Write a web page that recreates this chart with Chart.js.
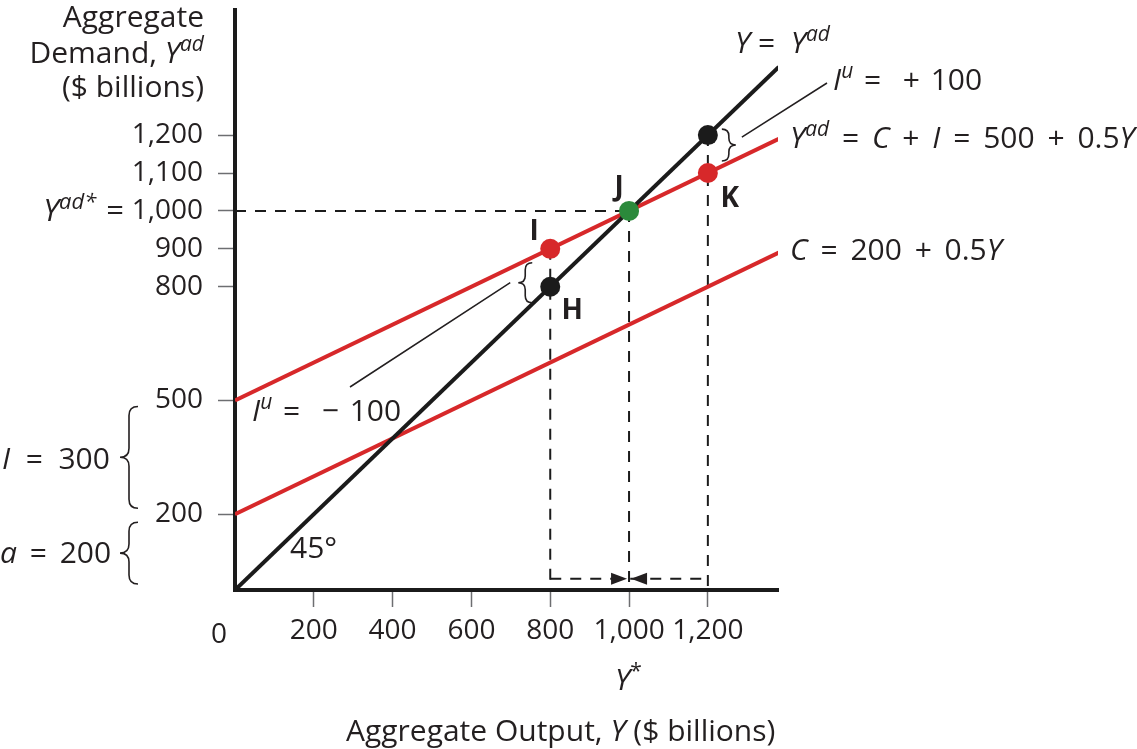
<!DOCTYPE html>
<html>
<head>
<meta charset="utf-8">
<script src="https://cdn.jsdelivr.net/npm/chart.js@4.4.0/dist/chart.umd.min.js"></script>
<style>
  html, body { margin: 0; padding: 0; background: #fff; }
  canvas { display: block; }
</style>
</head>
<body>
<canvas id="myChart" width="1137" height="749"></canvas>
<script>
// tick labels
const xTicks = [200, 400, 600, 800, 1000, 1200];
const yTicks = [200, 500, 800, 900, 1000, 1100, 1200];

// the three straight lines, given at their two ends
const lineEnds = [0, 1380];
const yEqualsYad = [0, 1380];      // 45 degree line
const aggDemand = [500, 1190];     // Yad = C + I = 500 + 0.5Y
const consumption = [200, 890];    // C = 200 + 0.5Y

// points H, I, J, K and the point on the 45 line above K
const pointNames = ['H', 'I', 'J', 'K', ''];
const pointX = [800, 800, 1000, 1200, 1200];
const pointY = [800, 900, 1000, 1100, 1200];

// dashed guides
const guideX = [800, 1000, 1200];
const guideTop = [900, 1000, 1200];
const equilibrium = 1000;
const arrowLevel = 30;

const ink = '#231f20';
const red = '#d7282a';
const green = '#2b8a3b';
const black = '#1b1b1b';
const pointColors = [black, red, green, red, black];
const FONT = "'Open Sans', 'Noto Sans', sans-serif";

Chart.defaults.font.family = FONT;

const xy = (xs, ys) => xs.map((x, i) => ({ x: x, y: ys[i] }));

function dashed(points) {
    return {
        data: points, showLine: true, borderColor: black, borderWidth: 2,
        borderDash: [11, 9], pointRadius: 0, order: 3
    };
}

// text made of pieces: [text, style], style may hold i (italic), b (bold), s (superscript)
// extra = additional px added to every space
function rich(ctx, x, y, parts, size, align, extra) {
    extra = extra || 0;
    const fontFor = st => (st.includes('i') ? 'italic ' : '') + (st.includes('b') ? 'bold ' : '') +
        Math.round(st.includes('s') ? size * 0.7 : size) + 'px ' + FONT;
    const widthOf = p => {
        ctx.font = fontFor(p[1]);
        const spaces = p[0].split(' ').length - 1;
        return ctx.measureText(p[0]).width + spaces * extra;
    };
    let w = 0;
    parts.forEach(p => { w += widthOf(p); });
    let cx = align === 'right' ? x - w : align === 'center' ? x - w / 2 : x;
    parts.forEach(p => {
        ctx.font = fontFor(p[1]);
        const dy = p[1].includes('s') ? -size * 0.4 : 0;
        const words = p[0].split(' ');
        const sp = ctx.measureText(' ').width + extra;
        words.forEach((word, k) => {
            if (k > 0) cx += sp;
            ctx.fillText(word, cx, y + dy);
            cx += ctx.measureText(word).width;
        });
    });
}

// vertical curly brace, tip points to dir (-1 left, 1 right)
function brace(ctx, x, y1, y2, dir, w) {
    const h = w / 2, ym = (y1 + y2) / 2;
    const e = x - dir * h, t = x + dir * h;
    ctx.beginPath();
    ctx.moveTo(e, y1);
    ctx.quadraticCurveTo(x, y1, x, y1 + h);
    ctx.lineTo(x, ym - h);
    ctx.quadraticCurveTo(x, ym, t, ym);
    ctx.quadraticCurveTo(x, ym, x, ym + h);
    ctx.lineTo(x, y2 - h);
    ctx.quadraticCurveTo(x, y2, e, y2);
    ctx.stroke();
}

function arrowHead(ctx, x, y, dir) {
    ctx.beginPath();
    ctx.moveTo(x, y);
    ctx.lineTo(x - dir * 16, y - 6);
    ctx.lineTo(x - dir * 16, y + 6);
    ctx.closePath();
    ctx.fill();
}

const annotations = {
    id: 'annotations',
    afterDraw(chart) {
        const ctx = chart.ctx;
        const X = v => chart.scales.x.getPixelForValue(v);
        const Y = v => chart.scales.y.getPixelForValue(v);
        ctx.save();
        ctx.fillStyle = ink;
        ctx.strokeStyle = ink;
        ctx.textBaseline = 'alphabetic';

        // axis titles
        rich(ctx, 204, 27, [['Aggregate', '']], 30, 'right');
        rich(ctx, 204, 63, [['Demand, ', ''], ['Y', 'i'], ['ad', 'is']], 30, 'right');
        rich(ctx, 204, 97, [['($ billions)', '']], 30, 'right');
        rich(ctx, 346, 741, [['Aggregate Output, ', ''], ['Y', 'i'], [' ($ billions)', '']], 30, 'left');
        rich(ctx, 615, 690, [['Y', 'i'], ['*', 's']], 30, 'left');

        // "0" at the origin and the Yad* label before 1,000
        rich(ctx, X(0) - 16, 643, [['0', '']], 28, 'center');
        rich(ctx, 124, Y(equilibrium) + 10, [['Y', 'i'], ['ad*', 'is'], [' =', '']], 31, 'right', 2);

        // line labels
        rich(ctx, 735, 53, [['Y', 'i'], [' =  ', ''], ['Y', 'i'], ['ad', 'is']], 30, 'left');
        rich(ctx, 833, 90, [['I', 'i'], ['u', 'is'], [' =  + 100', '']], 30, 'left', 3);
        rich(ctx, 790, 148, [['Y', 'i'], ['ad', 'is'], [' = ', ''], ['C', 'i'], [' + ', ''], ['I', 'i'],
            [' = 500 + 0.5', ''], ['Y', 'i']], 30, 'left', 5);
        rich(ctx, 790, 260, [['C', 'i'], [' = 200 + 0.5', ''], ['Y', 'i']], 30, 'left', 5);
        rich(ctx, 252, 421, [['I', 'i'], ['u', 'is'], [' =  \u2212 100', '']], 30, 'left', 3);
        rich(ctx, 2, 469, [['I', 'i'], ['  =  300', '']], 30, 'left');
        rich(ctx, 0, 563, [['a', 'i'], [' = 200', '']], 30, 'left', 5);
        rich(ctx, 290, 558, [['45\u00b0', '']], 30, 'left');

        // point names
        const offs = [[22, 32], [-16, -9], [-10, -15], [22, 34]];
        offs.forEach((o, i) => {
            rich(ctx, X(pointX[i]) + o[0], Y(pointY[i]) + o[1], [[pointNames[i], 'b']], 28, 'center');
        });

        // braces
        ctx.lineWidth = 1.6;
        brace(ctx, 129, Y(500) + 6, Y(200) - 6, -1, 18);
        brace(ctx, 129, Y(200) + 8, Y(0) - 6, -1, 18);
        brace(ctx, X(800) - 25, Y(900) + 14, Y(800) + 16, -1, 14);
        brace(ctx, X(1200) + 21, Y(1200) - 6, Y(1100) - 12, 1, 14);

        // leader lines to the Iu labels
        ctx.lineWidth = 1.5;
        ctx.beginPath();
        ctx.moveTo(X(800) - 40, Y(800) - 4);
        ctx.lineTo(350, 387);
        ctx.moveTo(X(1200) + 34, Y(1200) + 2);
        ctx.lineTo(827, 83);
        ctx.stroke();

        // arrows meeting at Y*
        arrowHead(ctx, X(1000) - 2, Y(arrowLevel), 1);
        arrowHead(ctx, X(1000) + 2, Y(arrowLevel), -1);
        ctx.restore();
    }
};

const myChart = new Chart(document.getElementById('myChart').getContext('2d'), {
    type: 'scatter',
    data: {
        datasets: [
            {
                data: xy(pointX, pointY), showLine: false, pointRadius: 10,
                pointBackgroundColor: pointColors, pointBorderWidth: 0, order: 0
            },
            { data: xy(lineEnds, yEqualsYad), showLine: true, borderColor: black, borderWidth: 4, pointRadius: 0, order: 1 },
            { data: xy(lineEnds, aggDemand), showLine: true, borderColor: red, borderWidth: 4, pointRadius: 0, order: 2 },
            { data: xy(lineEnds, consumption), showLine: true, borderColor: red, borderWidth: 4, pointRadius: 0, order: 2 },
            dashed([{ x: 0, y: equilibrium }, { x: 1000, y: equilibrium }]),
            ...guideX.map((x, i) => dashed([{ x: x, y: guideTop[i] }, { x: x, y: 0 }])),
            dashed([{ x: 800, y: arrowLevel }, { x: 1200, y: arrowLevel }])
        ]
    },
    options: {
        responsive: false,
        animation: false,
        devicePixelRatio: 1,
        events: [],
        layout: { padding: { top: 10, right: 359, left: 0, bottom: 0 } },
        plugins: { legend: { display: false }, tooltip: { enabled: false } },
        scales: {
            x: {
                type: 'linear', min: 0, max: 1378,
                afterBuildTicks: s => { s.ticks = xTicks.map(v => ({ value: v })); },
                afterFit: s => { s.height = 159; s.paddingLeft = 0; s.paddingRight = 0; },
                ticks: {
                    callback: v => v.toLocaleString('en-US'), color: ink, font: { size: 28 },
                    padding: 7, autoSkip: false, maxRotation: 0
                },
                grid: { drawOnChartArea: false, drawTicks: true, tickLength: 17, tickColor: '#6d6e71', tickWidth: 1.5 },
                border: { color: black, width: 4 }
            },
            y: {
                type: 'linear', min: 0, max: 1530,
                afterBuildTicks: s => { s.ticks = yTicks.map(v => ({ value: v })); },
                afterFit: s => { s.width = 235; s.paddingTop = 0; s.paddingBottom = 0; },
                ticks: {
                    callback: v => v.toLocaleString('en-US'), color: ink, font: { size: 28 },
                    padding: 15, autoSkip: false
                },
                grid: { drawOnChartArea: false, drawTicks: true, tickLength: 17, tickColor: '#6d6e71', tickWidth: 1.5 },
                border: { color: black, width: 4 }
            }
        }
    },
    plugins: [annotations]
});
</script>
</body>
</html>
